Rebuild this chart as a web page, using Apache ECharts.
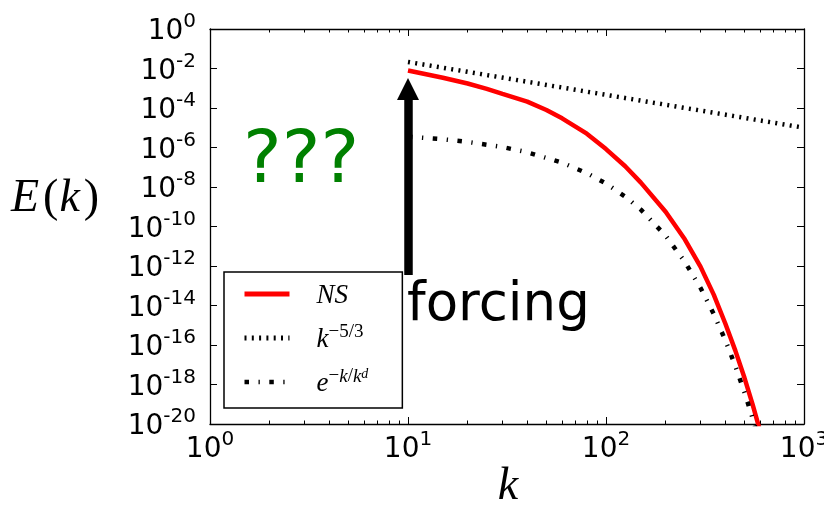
<!DOCTYPE html>
<html><head><meta charset="utf-8">
<script src="https://cdn.jsdelivr.net/npm/echarts@6/dist/echarts.min.js"></script>
<style>html,body{margin:0;padding:0;background:#fff}#c{width:824px;height:508px}</style>
</head><body><div id="c"></div>
<script>
// ---- data ----
const nsK = [10, 12, 15, 20, 25, 30, 40, 50, 60, 80, 100, 125, 150, 200, 250, 300, 350, 400, 450, 500, 550, 600];
const nsE = [7.9e-3, 5.4e-3, 3.4e-3, 1.74e-3, 9.3e-4, 5.2e-4, 2.1e-4, 7.9e-5, 3.0e-5, 5.0e-6, 8.3e-7, 1.12e-7, 1.66e-8, 5.6e-10, 2.24e-11, 9.3e-13, 3.55e-14, 1.26e-15, 5.2e-17, 2.24e-18, 9.8e-20, 4.4e-21];
const powK = [10, 100, 1000];
const powE = [2.15e-2, 4.64e-4, 1.0e-5];
const expK = [10, 15, 20, 30, 40, 60, 80, 100, 125, 150, 200, 250, 300, 350, 400, 450, 500, 550, 600];
const expE = [3.56e-6, 2.62e-6, 1.93e-6, 1.05e-6, 5.74e-7, 1.70e-7, 5.06e-8, 1.50e-8, 3.27e-9, 7.16e-10, 3.43e-11, 1.64e-12, 7.85e-14, 3.76e-15, 1.80e-16, 8.61e-18, 4.12e-19, 1.97e-20, 9.4e-22];
const xMinorTicks = [2, 3, 4, 5, 6, 7, 8, 9, 20, 30, 40, 50, 60, 70, 80, 90, 200, 300, 400, 500, 600, 700, 800, 900];
const seriesNames = ['NS', 'k53', 'expkd'];
const legendLabels = {
  NS: '{g| }{i|NS}',
  k53: '{g| }{i|k}{sr|\u22125/3}',
  expkd: '{g| }{i|e}{sr|\u2212}{si|k}{sr|/}{si|k}{sb|d}'
};
const arrowK = 10, arrowFrom = 3.5e-13, arrowTo = 9.1e-4;

const zip = (a, b) => a.map((v, i) => [v, b[i]]);

const tickRich = {
  b: {fontFamily: 'DejaVu Sans', fontSize: 28, lineHeight: 34, verticalAlign: 'bottom', color: '#000'},
  s: {fontFamily: 'DejaVu Sans', fontSize: 20, lineHeight: 14, verticalAlign: 'top', color: '#000'}
};
const powFmt = v => '{b|10}{s|' + Math.round(Math.log10(v)) + '}';
const black = {color: '#000', width: 1};

const chart = echarts.init(document.getElementById('c'));
chart.setOption({
  animation: false,
  backgroundColor: '#fff',
  grid: {left: 210, top: 29, width: 594, height: 395, show: false, containLabel: false, outerBoundsMode: 'none'},
  xAxis: [
    {type: 'log', logBase: 10, min: 1, max: 1000, interval: 1, position: 'bottom',
     axisLine: {show: true, onZero: false, lineStyle: {color: '#000', width: 1.3}},
     axisTick: {show: true, inside: true, length: 7, lineStyle: black},
     splitLine: {show: false},
     axisLabel: {show: true, margin: 6, formatter: powFmt, rich: tickRich, hideOverlap: false, showMinLabel: true, showMaxLabel: true}},
    {type: 'value', min: 0, max: 3, position: 'bottom',
     axisLine: {show: false, onZero: false}, splitLine: {show: false}, axisLabel: {show: false},
     axisTick: {show: true, inside: true, length: 3.5, lineStyle: black, customValues: xMinorTicks.map(Math.log10)}},
    {type: 'log', logBase: 10, min: 1, max: 1000, interval: 1, position: 'top',
     axisLine: {show: true, onZero: false, lineStyle: {color: '#000', width: 1.3}},
     axisTick: {show: true, inside: true, length: 7, lineStyle: black},
     splitLine: {show: false}, axisLabel: {show: false}},
    {type: 'value', min: 0, max: 3, position: 'top',
     axisLine: {show: false, onZero: false}, splitLine: {show: false}, axisLabel: {show: false},
     axisTick: {show: true, inside: true, length: 3.5, lineStyle: black, customValues: xMinorTicks.map(Math.log10)}}
  ],
  yAxis: [
    {type: 'log', logBase: 10, min: 1e-20, max: 1, interval: 2, position: 'left',
     axisLine: {show: true, onZero: false, lineStyle: {color: '#000', width: 1.3}},
     axisTick: {show: true, inside: true, length: 7, lineStyle: black},
     splitLine: {show: false},
     axisLabel: {show: true, margin: 14, formatter: powFmt, rich: tickRich, hideOverlap: false, showMinLabel: true, showMaxLabel: true}},
    {type: 'log', logBase: 10, min: 1e-20, max: 1, interval: 2, position: 'right',
     axisLine: {show: true, onZero: false, lineStyle: {color: '#000', width: 1.3}},
     axisTick: {show: true, inside: true, length: 7, lineStyle: black},
     splitLine: {show: false}, axisLabel: {show: false}}
  ],
  legend: {
    orient: 'vertical', left: 224, top: 272,
    padding: [10, 34, 11, 18], itemGap: 14, itemWidth: 45, itemHeight: 30,
    backgroundColor: '#fff', borderColor: '#000', borderWidth: 1.5, borderRadius: 0,
    selectedMode: false,
    itemStyle: {opacity: 0},
    lineStyle: {width: 'inherit'},
    formatter: n => legendLabels[n],
    textStyle: {
      color: '#000',
      rich: {
        g: {width: 22, fontSize: 10},
        i: {fontFamily: 'Liberation Serif', fontStyle: 'italic', fontSize: 27, lineHeight: 30, verticalAlign: 'bottom', color: '#000'},
        sr: {fontFamily: 'Liberation Serif', fontSize: 19, lineHeight: 18, verticalAlign: 'top', color: '#000'},
        si: {fontFamily: 'Liberation Serif', fontStyle: 'italic', fontSize: 19, lineHeight: 18, verticalAlign: 'top', color: '#000'},
        sb: {fontFamily: 'Liberation Serif', fontStyle: 'italic', fontSize: 14, lineHeight: 30, verticalAlign: 'top', color: '#000'}
      }
    },
    data: [
      {name: 'NS', lineStyle: {color: '#ff0000', width: 5, type: 'solid'}},
      {name: 'k53', lineStyle: {color: '#000', width: 5, type: [2, 5.3]}},
      {name: 'expkd', lineStyle: {color: '#000', width: 4.5, type: [4.5, 9.5, 1.3, 9.5]}}
    ]
  },
  series: [
    {name: seriesNames[0], type: 'line', data: zip(nsK, nsE), symbol: 'none', silent: true,
     lineStyle: {color: '#ff0000', width: 4.5, type: 'solid'}, itemStyle: {color: '#ff0000'},
     markLine: {silent: true, symbol: ['none', 'triangle'], symbolSize: 22,
       label: {show: false}, lineStyle: {color: '#000', width: 8.5, type: 'solid'},
       itemStyle: {color: '#000'},
       emphasis: {disabled: true},
       data: [[{coord: [arrowK, arrowFrom]}, {coord: [arrowK, arrowTo]}]]}},
    {name: seriesNames[1], type: 'line', data: zip(powK, powE), symbol: 'none', silent: true,
     lineStyle: {color: '#000', width: 4.5, type: [2, 5.3]}, itemStyle: {color: '#000'}},
    {name: seriesNames[2], type: 'line', data: zip(expK, expE), symbol: 'none', silent: true,
     lineStyle: {color: '#000', width: 4.5, type: [4.5, 9.5, 1.3, 9.5]}, itemStyle: {color: '#000'}}
  ],
  graphic: [
    {type: 'text', z: 100, style: {x: 11, y: 199, verticalAlign: 'middle', align: 'left',
      text: '{i|E}{r|(}{i|k}{r|)}',
      rich: {
        i: {fontFamily: 'Liberation Serif', fontStyle: 'italic', fontSize: 46, padding: [0, 3, 0, 0], fill: '#000'},
        r: {fontFamily: 'Liberation Serif', fontSize: 46, padding: [0, 1, 0, 1], fill: '#000'}
      }}},
    {type: 'text', z: 100, style: {x: 508, y: 487, align: 'center', verticalAlign: 'middle',
      text: 'k', fontFamily: 'Liberation Serif', fontStyle: 'italic', fontSize: 46, fill: '#000'}},
    {type: 'text', z: 100, style: {x: 243, y: 163, align: 'left', verticalAlign: 'middle',
      text: '???', fontFamily: 'DejaVu Sans', fontSize: 73, fill: '#008000'}},
    {type: 'text', z: 100, style: {x: 407, y: 306, align: 'left', verticalAlign: 'middle',
      text: 'forcing', fontFamily: 'DejaVu Sans', fontSize: 53, fill: '#000'}}
  ]
});
</script></body></html>
